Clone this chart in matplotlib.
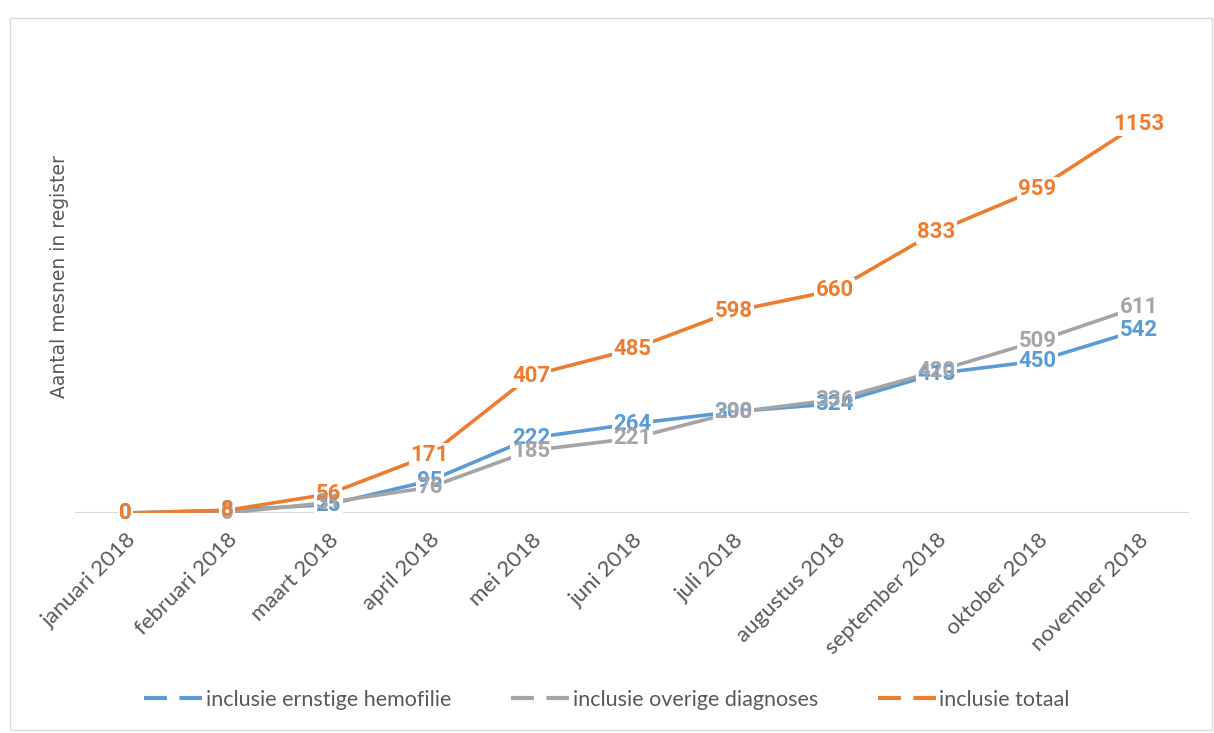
import matplotlib.pyplot as plt
from matplotlib.patches import Rectangle

maanden = ["januari 2018", "februari 2018", "maart 2018", "april 2018", "mei 2018",
           "juni 2018", "juli 2018", "augustus 2018", "september 2018",
           "oktober 2018", "november 2018"]
hemofilie = [0, 8, 25, 95, 222, 264, 300, 324, 413, 450, 542]
overige = [0, 0, 31, 76, 185, 221, 298, 336, 420, 509, 611]
totaal = [0, 8, 56, 171, 407, 485, 598, 660, 833, 959, 1153]

series = [
    ("inclusie ernstige hemofilie", hemofilie, "#5B9BD5"),
    ("inclusie overige diagnoses", overige, "#A5A5A5"),
    ("inclusie totaal", totaal, "#ED7D31"),
]

grijs = "#595959"
label_font = dict(fontsize=16, fontweight="bold", family="Roboto")

fig = plt.figure(figsize=(12.14, 7.33), dpi=100)
ax = fig.add_axes([0.0618, 0.3001, 0.918, 0.645])

x = list(range(len(maanden)))
ax.axhline(0, color="#D9D9D9", lw=1.5, zorder=1)

for naam, waarden, kleur in series:
    ax.plot(x, waarden, color=kleur, lw=2.6, solid_capstyle="butt", zorder=2, label=naam)

# white boxes first so the lines break around the labels, then the numbers on top
for naam, waarden, kleur in series:
    for xi, v in zip(x, waarden):
        ax.text(xi, v, str(v), ha="center", va="center", color="white", zorder=3,
                bbox=dict(facecolor="white", edgecolor="none", pad=1), **label_font)
for naam, waarden, kleur in series:
    for xi, v in zip(x, waarden):
        ax.text(xi, v, str(v), ha="center", va="center", color=kleur, zorder=4, **label_font)

ax.set_xlim(-0.5, len(maanden) - 0.5)
ax.set_ylim(0, 1400)
ax.set_yticks([])
ax.set_xticks(x)
ax.set_xticklabels(maanden, rotation=45, ha="right", rotation_mode="anchor",
                   fontsize=16, family="Lato", color=grijs)
ax.tick_params(axis="x", length=0, pad=12)
for s in ax.spines.values():
    s.set_visible(False)

ax.set_ylabel("Aantal mesnen in register", fontsize=13.5, color=grijs, family="DejaVu Sans",
              labelpad=4)

handles = [plt.Line2D([], [], color=k, lw=3, linestyle=(0, (5.5, 3))) for _, _, k in series]
fig.legend(handles, [n for n, _, _ in series], loc="center", bbox_to_anchor=(0.5, 0.045),
           ncol=3, frameon=False, handlelength=2.7, handletextpad=0.15, columnspacing=2.8,
           prop={"family": "Lato", "size": 15.5}, labelcolor=grijs)

fig.patches.append(Rectangle((10 / 1214, 3 / 733), 1202 / 1214, 712 / 733,
                             transform=fig.transFigure, fill=False,
                             edgecolor="#D9D9D9", lw=1))

fig.savefig("out.png", dpi=100)
